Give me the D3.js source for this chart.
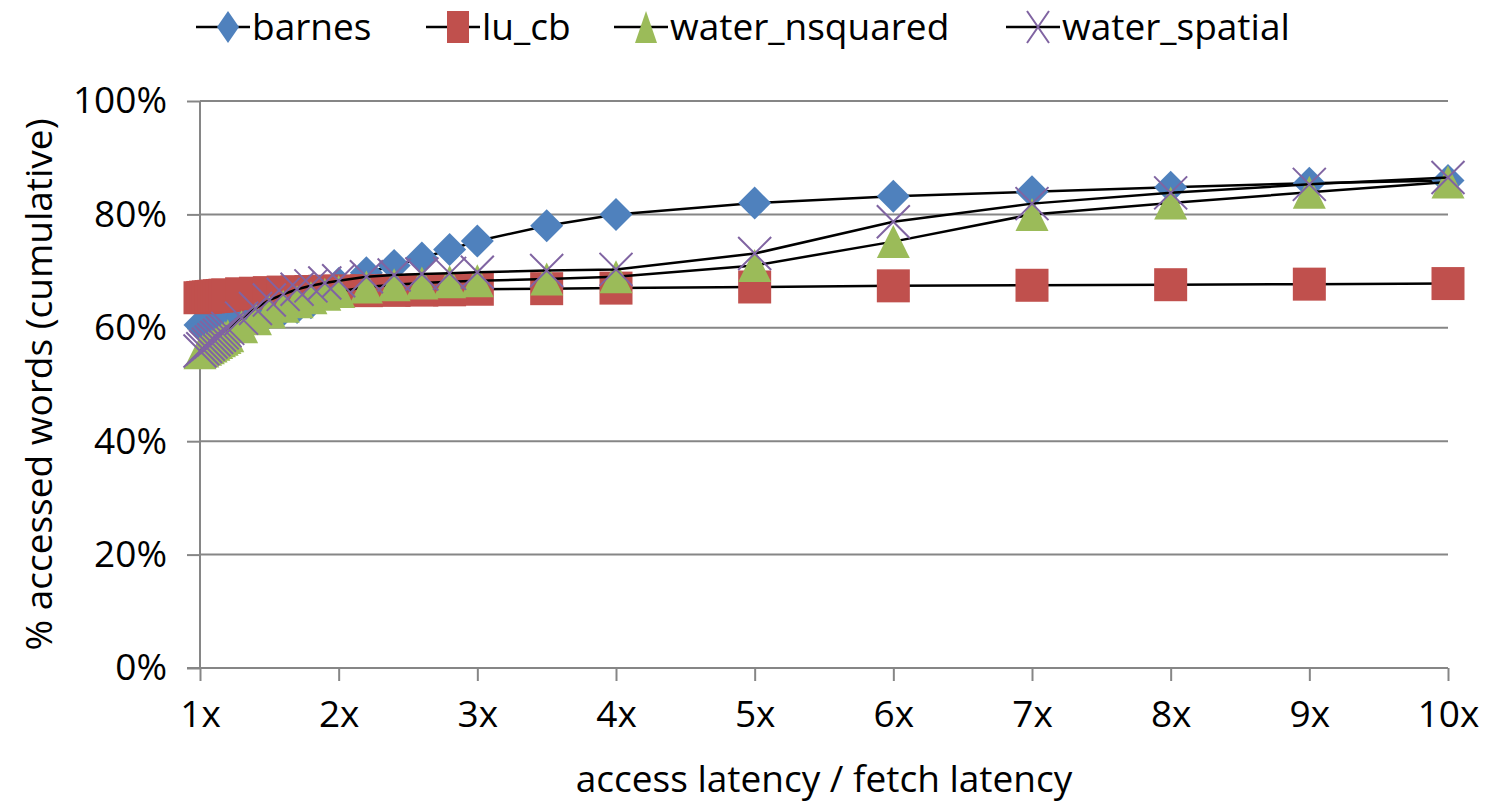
<!DOCTYPE html>
<html>
<head>
<meta charset="utf-8">
<script src="https://cdn.jsdelivr.net/npm/d3@7"></script>
<style>
  body { margin: 0; background: #fff; }
  svg text { font-family: "Open Sans", sans-serif; fill: #000; }
</style>
</head>
<body>
<svg id="chart" width="1489" height="805"></svg>
<script>
// latency ratio (x) shared by all series
const ratios = [1.00, 1.02, 1.04, 1.06, 1.08, 1.10, 1.12, 1.14, 1.16, 1.18, 1.20,
  1.3, 1.4, 1.5, 1.6, 1.7, 1.8, 1.9, 2.0, 2.2, 2.4, 2.6, 2.8, 3.0, 3.5, 4, 5, 6, 7, 8, 9, 10];

const barnes = [60.5, 60.6, 60.7, 60.8, 60.9, 61.0, 61.1, 61.2, 61.3, 61.4, 61.5,
  61.9, 62.3, 62.7, 63.1, 63.6, 64.4, 66.0, 67.8, 69.7, 71.0, 72.3, 73.8, 75.3, 78.0, 80.0,
  82.0, 83.2, 84.0, 84.8, 85.5, 86.0];
const lu_cb = [65.3, 65.35, 65.4, 65.45, 65.5, 65.55, 65.6, 65.65, 65.7, 65.75, 65.8,
  66.0, 66.1, 66.2, 66.3, 66.35, 66.4, 66.45, 66.5, 66.55, 66.6, 66.65, 66.7, 66.8, 66.9, 67.0,
  67.2, 67.4, 67.5, 67.6, 67.7, 67.8];
const water_nsquared = [55.6, 55.9, 56.2, 56.5, 56.8, 57.1, 57.4, 57.7, 58.0, 58.3, 58.6,
  60.2, 61.6, 62.8, 63.8, 64.6, 65.3, 65.9, 66.4, 67.2, 67.6, 67.9, 68.1, 68.3, 68.6, 69.0,
  71.0, 75.2, 80.0, 82.0, 83.9, 85.7];
const water_spatial = [55.9, 56.3, 56.7, 57.1, 57.5, 57.9, 58.3, 58.7, 59.1, 59.5, 59.9,
  61.7, 63.4, 64.9, 65.9, 66.8, 67.4, 67.9, 68.3, 69.0, 69.3, 69.5, 69.6, 69.8, 70.1, 70.3,
  73.1, 78.7, 81.9, 83.8, 85.3, 86.5];

const seriesNames = ["barnes", "lu_cb", "water_nsquared", "water_spatial"];
const seriesValues = [barnes, lu_cb, water_nsquared, water_spatial];
const seriesColors = ["#4F81BD", "#C0504D", "#9BBB59", "#8064A2"];
const seriesShapes = ["diamond", "square", "triangle", "cross"];

const xTicks = [1, 2, 3, 4, 5, 6, 7, 8, 9, 10];
const yTicks = [0, 20, 40, 60, 80, 100];

const svg = d3.select("#chart");
const margin = { left: 200, right: 41, top: 101, bottom: 137 };
const width = 1489, height = 805;

const xScale = d3.scaleLinear().domain([1, 10]).range([margin.left, width - margin.right]);
const yScale = d3.scaleLinear().domain([0, 100]).range([height - margin.bottom, margin.top]);

// gridlines
svg.append("g")
  .selectAll("line")
  .data(yTicks.filter(d => d > 0))
  .join("line")
  .attr("x1", xScale(1))
  .attr("x2", xScale(10))
  .attr("y1", d => yScale(d))
  .attr("y2", d => yScale(d))
  .attr("stroke", "#868686")
  .attr("stroke-width", 2);

// axes
const xAxis = svg.append("g")
  .attr("transform", `translate(0,${yScale(0)})`)
  .call(d3.axisBottom(xScale).tickValues(xTicks).tickFormat(d => `${d}x`).tickSize(13).tickPadding(20));
const yAxis = svg.append("g")
  .attr("transform", `translate(${xScale(1)},0)`)
  .call(d3.axisLeft(yScale).tickValues(yTicks).tickFormat(d => `${d}%`).tickSize(13).tickPadding(20));

[xAxis, yAxis].forEach(ax => {
  ax.select(".domain").attr("stroke", "#868686").attr("stroke-width", 2);
  ax.selectAll(".tick line").attr("stroke", "#868686").attr("stroke-width", 2);
  ax.selectAll("text").style("font-family", '"Open Sans", sans-serif').style("font-size", "37px").attr("fill", "#000");
});
// y domain without end ticks; x domain runs from the left tick stub to the last tick
yAxis.select(".domain").attr("d", `M0,${yScale(100)}V${yScale(0)}`);
xAxis.select(".domain").attr("d", `M${xScale(1) - 13},0H${xScale(10)}`);

// axis titles
svg.append("text")
  .attr("x", (xScale(1) + xScale(10)) / 2)
  .attr("y", 792)
  .attr("text-anchor", "middle")
  .style("font-size", "37px")
  .text("access latency / fetch latency");

svg.append("text")
  .attr("transform", `translate(52,${(yScale(0) + yScale(100)) / 2}) rotate(-90)`)
  .attr("text-anchor", "middle")
  .style("font-size", "37px")
  .text("% accessed words (cumulative)");

// marker drawing
const drawMarker = (sel, shape, color, w, h) => {
  if (shape === "diamond") {
    sel.append("path").attr("d", `M0,${-h / 2}L${w / 2},0L0,${h / 2}L${-w / 2},0Z`).attr("fill", color);
  } else if (shape === "square") {
    sel.append("rect").attr("x", -w / 2).attr("y", -h / 2).attr("width", w).attr("height", h).attr("fill", color);
  } else if (shape === "triangle") {
    sel.append("path").attr("d", `M0,${-h / 2}L${w / 2},${h / 2}L${-w / 2},${h / 2}Z`).attr("fill", color);
  } else {
    sel.append("path")
      .attr("d", `M${-w / 2},${-h / 2}L${w / 2},${h / 2}M${w / 2},${-h / 2}L${-w / 2},${h / 2}`)
      .attr("stroke", color).attr("stroke-width", 2).attr("fill", "none");
  }
};

const line = d3.line()
  .x((d, i) => xScale(ratios[i]))
  .y(d => yScale(d));

seriesValues.forEach((values, s) => {
  const g = svg.append("g").attr("class", `series-${seriesNames[s]}`);
  g.append("path")
    .attr("d", line(values))
    .attr("fill", "none")
    .attr("stroke", "#000")
    .attr("stroke-width", 2.5);

  g.selectAll("g.marker")
    .data(values)
    .join("g")
    .attr("class", "marker")
    .attr("transform", (d, i) => `translate(${xScale(ratios[i])},${yScale(d)})`)
    .each(function () {
      drawMarker(d3.select(this), seriesShapes[s], seriesColors[s], 33, 33);
    });
});

// legend
const legendX = [252, 482, 670, 1062];
const legend = svg.append("g")
  .selectAll("g")
  .data(seriesNames)
  .join("g")
  .attr("transform", (d, i) => `translate(${legendX[i]},27)`);

legend.append("line")
  .attr("x1", -56).attr("x2", -2)
  .attr("stroke", "#000").attr("stroke-width", 2.5);
legend.each(function (d, i) {
  const m = d3.select(this).append("g").attr("transform", "translate(-24,0)");
  drawMarker(m, seriesShapes[i], seriesColors[i], 22, 32);
});
legend.append("text")
  .attr("x", 0)
  .attr("dy", "0.35em")
  .style("font-size", "37px")
  .text(d => d);
</script>
</body>
</html>
